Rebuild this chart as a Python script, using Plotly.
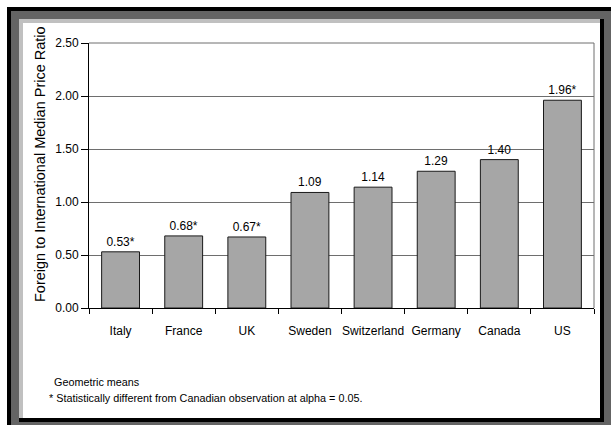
import plotly.graph_objects as go

countries = ["Italy", "France", "UK", "Sweden", "Switzerland", "Germany", "Canada", "US"]
ratios = [0.53, 0.68, 0.67, 1.09, 1.14, 1.29, 1.40, 1.96]
significant = [True, True, True, False, False, False, False, True]
y_ticks = [0.0, 0.5, 1.0, 1.5, 2.0, 2.5]
y_title = "Foreign to International Median Price Ratio"
notes = ["Geometric means", "* Statistically different from Canadian observation at alpha = 0.05."]

FONT = "Liberation Sans, Arial, sans-serif"
W, H = 611, 425
L, R, T, B = 89, 17, 43, 117
PW, PH = W - L - R, H - T - B


def px(x):
    return (x - L) / PW


def py(y):
    return (H - B - y) / PH


labels = [f"{v:.2f}" + ("*" if s else "") for v, s in zip(ratios, significant)]

fig = go.Figure()
fig.add_trace(go.Bar(
    x=countries, y=ratios,
    marker=dict(color="#a6a6a6", line=dict(color="#1a1a1a", width=1)),
    text=labels, textposition="outside", cliponaxis=False,
    textfont=dict(family=FONT, size=12, color="black"),
    hoverinfo="x+y",
))

shapes = []


def rect(x0, y0, x1, y1, color):
    shapes.append(dict(type="rect", xref="paper", yref="paper", layer="below",
                       x0=px(x0), x1=px(x1), y0=py(y1), y1=py(y0),
                       fillcolor=color, line=dict(width=0)))


rect(7, 7, 611, 425, "#000000")
rect(11, 11, 611, 425, "#646464")
rect(19, 19, 604, 422, "#000000")
rect(19, 19, 600, 418, "#c0c0c0")
rect(23, 23, 600, 418, "#ffffff")
# plot area border (top and right)
shapes.append(dict(type="line", xref="paper", yref="paper", x0=0, x1=1, y0=1, y1=1,
                   line=dict(color="#6e6e6e", width=1)))
shapes.append(dict(type="line", xref="paper", yref="paper", x0=1, x1=1, y0=0, y1=1,
                   line=dict(color="#6e6e6e", width=1)))

annotations = [
    dict(text=y_title, xref="paper", yref="paper", x=px(40), y=py(164),
         xanchor="center", yanchor="middle", textangle=-90, showarrow=False,
         font=dict(family=FONT, size=14.5, color="black")),
    dict(text=notes[0], xref="paper", yref="paper", x=px(52), y=py(382),
         xanchor="left", yanchor="middle", showarrow=False,
         font=dict(family=FONT, size=10.8, color="black")),
    dict(text=notes[1], xref="paper", yref="paper", x=px(47), y=py(398),
         xanchor="left", yanchor="middle", showarrow=False,
         font=dict(family=FONT, size=10.8, color="black")),
]

fig.update_layout(
    width=W, height=H,
    margin=dict(l=L, r=R, t=T, b=B, pad=0),
    paper_bgcolor="white", plot_bgcolor="white",
    bargap=0.4,
    showlegend=False,
    font=dict(family=FONT, size=12, color="black"),
    shapes=shapes,
    annotations=annotations,
    xaxis=dict(
        showline=True, linecolor="black", linewidth=1,
        ticks="outside", tickson="boundaries", ticklen=5, tickcolor="black",
        showgrid=False, ticklabelstandoff=12, tickangle=0,
        tickfont=dict(family=FONT, size=12, color="black"),
    ),
    yaxis=dict(
        range=[0, 2.5], tickvals=y_ticks, tickformat=".2f",
        showline=True, linecolor="black", linewidth=1,
        ticks="outside", ticklen=7, tickcolor="black",
        showgrid=True, gridcolor="#6e6e6e", gridwidth=1,
        zeroline=False,
        tickfont=dict(family=FONT, size=12, color="black"),
    ),
)

fig.write_html("out.html", config={"displayModeBar": False},
               post_script="document.body.style.margin='0px';")
